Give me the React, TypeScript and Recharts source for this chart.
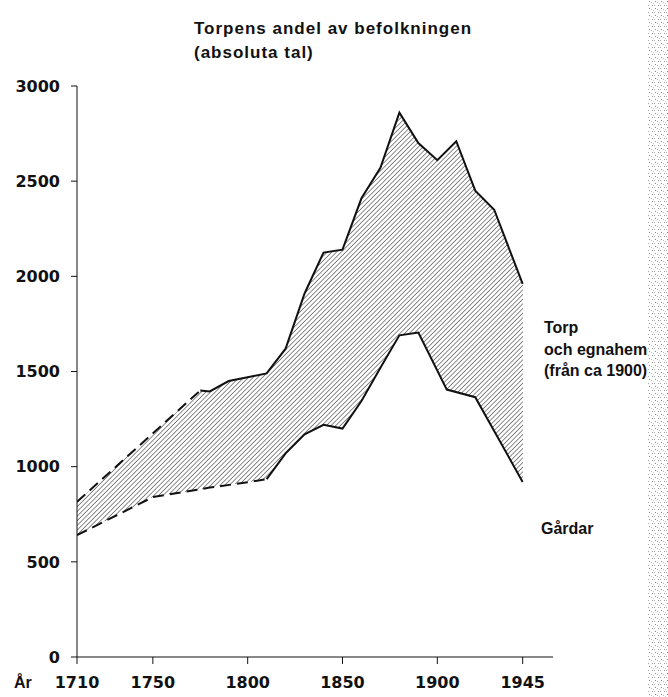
import { ComposedChart, Area, Line, XAxis, YAxis } from 'recharts'

// Torpens andel av befolkningen, absoluta tal
const titleLines = ['Torpens andel av befolkningen', '(absoluta tal)']
const yTicks = [0, 500, 1000, 1500, 2000, 2500, 3000]
const xTicks = [1710, 1750, 1800, 1850, 1900, 1945]
const xAxisName = 'År'

// upper line: gårdar + torp (total)
const totalYears = [1710, 1775, 1780, 1790, 1800, 1810, 1820, 1830, 1840, 1850, 1860, 1870, 1880, 1890, 1900, 1910, 1920, 1930, 1945]
const totalValues = [815, 1400, 1395, 1450, 1470, 1490, 1620, 1910, 2125, 2140, 2410, 2570, 2860, 2700, 2610, 2710, 2450, 2350, 1960]
const totalDashedUntil = 1775

// lower line: gårdar
const gardarYears = [1710, 1750, 1780, 1800, 1810, 1820, 1830, 1840, 1850, 1860, 1870, 1880, 1890, 1905, 1920, 1945]
const gardarValues = [640, 840, 890, 918, 935, 1070, 1170, 1220, 1200, 1345, 1520, 1690, 1705, 1405, 1365, 920]
const gardarDashedUntil = 1810

const torpLabel = ['Torp', 'och egnahem', '(från ca 1900)']
const gardarLabel = 'Gårdar'

const numFont = '"DejaVu Sans", sans-serif'
const textFont = '"Liberation Sans", Arial, sans-serif'
const ink = '#111'

const total = totalYears.map((year, i) => ({ year, value: totalValues[i] }))
const gardar = gardarYears.map((year, i) => ({ year, value: gardarValues[i] }))

export default function App() {
  const tickStyle = { fontSize: 16, fontFamily: numFont, fontWeight: 'bold', fill: ink }

  return (
    <div style={{ position: 'absolute', left: 0, top: 0, width: 668, height: 697, background: '#fff' }}>
      <ComposedChart width={668} height={697} margin={{ top: 86, right: 115, bottom: 10, left: 17 }}>
        <defs>
          <pattern id="hatch" width="3.3" height="3.3" patternUnits="userSpaceOnUse" patternTransform="rotate(45)">
            <line x1="0" y1="0" x2="0" y2="3.3" stroke="#1a1a1a" strokeWidth="1" />
          </pattern>
        </defs>
        <Area
          data={total}
          dataKey="value"
          type="linear"
          fill="url(#hatch)"
          fillOpacity={1}
          stroke="none"
          shapeRendering="crispEdges"
          isAnimationActive={false}
        />
        <Area
          data={gardar}
          dataKey="value"
          type="linear"
          fill="#fff"
          fillOpacity={1}
          stroke="none"
          shapeRendering="crispEdges"
          isAnimationActive={false}
        />
        <Line
          data={total.filter((d) => d.year <= totalDashedUntil)}
          dataKey="value"
          type="linear"
          stroke={ink}
          strokeWidth={2}
          strokeDasharray="11 6"
          dot={false}
          isAnimationActive={false}
        />
        <Line
          data={total.filter((d) => d.year >= totalDashedUntil)}
          dataKey="value"
          type="linear"
          stroke={ink}
          strokeWidth={2}
          dot={false}
          isAnimationActive={false}
        />
        <Line
          data={gardar.filter((d) => d.year <= gardarDashedUntil)}
          dataKey="value"
          type="linear"
          stroke={ink}
          strokeWidth={2}
          strokeDasharray="11 6"
          dot={false}
          isAnimationActive={false}
        />
        <Line
          data={gardar.filter((d) => d.year >= gardarDashedUntil)}
          dataKey="value"
          type="linear"
          stroke={ink}
          strokeWidth={2}
          dot={false}
          isAnimationActive={false}
        />
        <XAxis
          type="number"
          dataKey="year"
          domain={[1710, 1961]}
          ticks={xTicks}
          allowDataOverflow
          tickSize={7}
          tickMargin={13}
          stroke={ink}
          tick={tickStyle}
          height={30}
        />
        <YAxis
          type="number"
          domain={[0, 3000]}
          ticks={yTicks}
          tickSize={6}
          tickMargin={11}
          stroke={ink}
          tick={tickStyle}
          width={60}
        />
      </ComposedChart>

      <svg width={668} height={697} style={{ position: 'absolute', left: 0, top: 0, pointerEvents: 'none' }}>
        <defs>
          <pattern id="speckle" width="6" height="7" patternUnits="userSpaceOnUse">
            <rect x="1" y="1" width="1" height="1" fill="#888" />
            <rect x="4" y="5" width="1" height="1" fill="#999" />
            <rect x="3" y="2" width="1" height="1" fill="#bbb" />
            <rect x="0" y="5" width="1" height="1" fill="#aaa" />
            <rect x="5" y="3" width="1" height="1" fill="#ccc" />
          </pattern>
        </defs>
        <g fontFamily={textFont} fontWeight="bold" fill={ink}>
          <text x={194} y={34} fontSize={17} letterSpacing={1}>{titleLines[0]}</text>
          <text x={194} y={58} fontSize={17} letterSpacing={1}>{titleLines[1]}</text>
          <text x={14} y={688} fontSize={16}>{xAxisName}</text>
          <text x={544} y={333} fontSize={16}>{torpLabel[0]}</text>
          <text x={544} y={355} fontSize={16}>{torpLabel[1]}</text>
          <text x={544} y={376} fontSize={16}>{torpLabel[2]}</text>
          <text x={541} y={534} fontSize={16}>{gardarLabel}</text>
        </g>
        <rect x={648} y={0} width={20} height={697} fill="#fff" />
        <rect x={648} y={0} width={20} height={697} fill="url(#speckle)" />
      </svg>
    </div>
  )
}
